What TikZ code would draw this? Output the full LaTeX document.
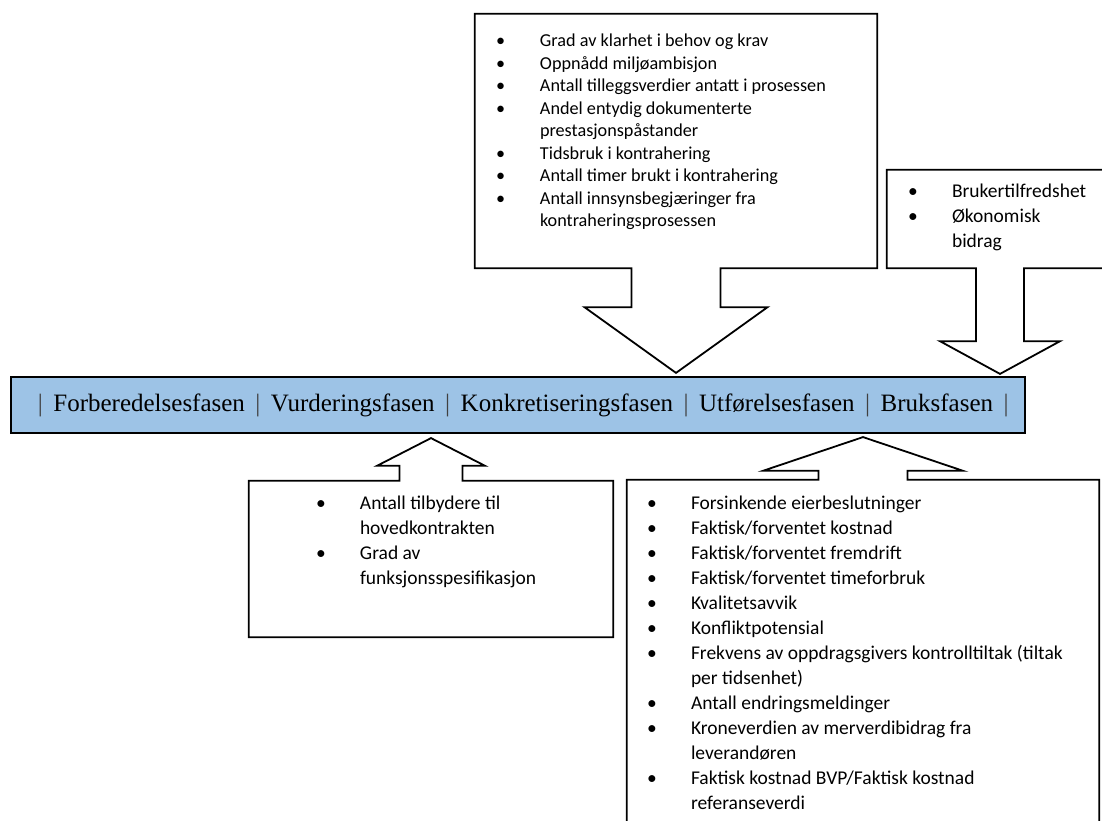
\documentclass[tikz,border=0pt]{standalone}
\usepackage{fontspec}
\setmainfont{Liberation Serif}
\newfontfamily\calibrifont{Carlito}
\usepackage{xcolor}
\usepackage{tikz}
\usetikzlibrary{positioning,calc}
\definecolor{PhaseBlue}{HTML}{9DC3E6}
\definecolor{PhaseSep}{HTML}{404040}
\newcommand{\phasesep}{\hspace{10.5pt}{\color{PhaseSep}|}\hspace{10.5pt}}
\newcommand{\itm}{\makebox[44pt][l]{\textbullet}}
\newcommand{\cnt}{\hspace*{44pt}}
\tikzset{phasebar/.style={draw=black, line width=2.2pt, fill=PhaseBlue, minimum width=1014pt, minimum height=56pt, inner sep=0pt, font=\fontsize{25}{30}\selectfont}, kpibox/.style={draw=none, inner sep=0pt}, kpicallout/.style={draw=black, line width=1.8pt, fill=white, line join=miter}, kpilist/.style={anchor=north west, align=left, inner sep=0pt, font=\calibrifont\fontsize{19.5}{25}\selectfont}, kpilistsmall/.style={kpilist, font=\calibrifont\fontsize{18.2}{22.5}\selectfont}}

\begin{document}
\begin{tikzpicture}[x=1pt, y=-1pt]
\useasboundingbox (0,0) rectangle (1102,821);
\clip (0,0) rectangle (1102,821);
\node[phasebar] (bar) at (518,405) {\phasesep Forberedelsesfasen\phasesep Vurderingsfasen\phasesep Konkretiseringsfasen\phasesep Utførelsesfasen\phasesep Bruksfasen\phasesep};
\node[kpibox, minimum width=402pt, minimum height=254pt] (kontrahering) at (676,141) {};
\node[kpibox, minimum width=226pt, minimum height=98pt] (bruk) at (1000,219) {};
\node[kpibox, minimum width=364pt, minimum height=156pt] (vurdering) at (431,559) {};
\node[kpibox, minimum width=472pt, minimum height=380pt] (utforelse) at (863,670) {};
% callouts pointing down onto the phases
\draw[kpicallout] (kontrahering.south west) -- (kontrahering.north west) -- (kontrahering.north east) -- (kontrahering.south east) -- ($(kontrahering.south)+(44.5,0)$) -- ++(0,39) -- ++(47,0) -- ($(kontrahering.south |- bar.north)+(0,-3)$) -- ($(kontrahering.south)+(-91.5,39)$) -- ++(47,0) -- ++(0,-39) -- cycle;
\draw[kpicallout] (bruk.south west) -- (bruk.north west) -- (bruk.north east) -- (bruk.south east) -- ($(bruk.south)+(24,0)$) -- ++(0,73) -- ++(36,0) -- ($(bruk.south |- bar.north)+(0,-2)$) -- ($(bruk.south)+(-60,73)$) -- ++(36,0) -- ++(0,-73) -- cycle;
% callouts pointing up from below
\draw[kpicallout] (vurdering.north west) -- ($(vurdering.north)+(-31.5,0)$) -- ++(0,-15) -- ++(-22.5,0) -- ($(vurdering.north |- bar.south)+(0,4)$) -- ($(vurdering.north)+(54,-15)$) -- ++(-22.5,0) -- ++(0,15) -- (vurdering.north east) -- (vurdering.south east) -- (vurdering.south west) -- cycle;
\draw[kpicallout] (utforelse.north west) -- ($(utforelse.north)+(-44.5,0)$) -- ++(0,-9) -- ++(-55.5,0) -- ($(utforelse.north |- bar.south)+(0,3)$) -- ($(utforelse.north)+(100,-9)$) -- ++(-55.5,0) -- ++(0,9) -- (utforelse.north east) -- (utforelse.south east) -- (utforelse.south west) -- cycle;
\node[kpilistsmall] (kontraheringtxt) at ($(kontrahering.north west)+(21,20)$) {\itm Grad av klarhet i behov og krav\\ \itm Oppnådd miljøambisjon\\ \itm Antall tilleggsverdier antatt i prosessen\\ \itm Andel entydig dokumenterte\\ \cnt prestasjonspåstander\\ \itm Tidsbruk i kontrahering\\ \itm Antall timer brukt i kontrahering\\ \itm Antall innsynsbegjæringer fra\\ \cnt kontraheringsprosessen};
\node[kpilist] (bruktxt) at ($(bruk.north west)+(21,14)$) {\itm Brukertilfredshet\\ \itm Økonomisk\\ \cnt bidrag};
\node[kpilist] (vurderingtxt) at ($(vurdering.north west)+(67,15)$) {\itm Antall tilbydere til\\ \cnt hovedkontrakten\\ \itm Grad av\\ \cnt funksjonsspesifikasjon};
\node[kpilist] (utforelsetxt) at ($(utforelse.north west)+(20,16)$) {\itm Forsinkende eierbeslutninger\\ \itm Faktisk/forventet kostnad\\ \itm Faktisk/forventet fremdrift\\ \itm Faktisk/forventet timeforbruk\\ \itm Kvalitetsavvik\\ \itm Konfliktpotensial\\ \itm Frekvens av oppdragsgivers kontrolltiltak (tiltak\\ \cnt per tidsenhet)\\ \itm Antall endringsmeldinger\\ \itm Kroneverdien av merverdibidrag fra\\ \cnt leverandøren\\ \itm Faktisk kostnad BVP/Faktisk kostnad\\ \cnt referanseverdi};
\end{tikzpicture}
\end{document}
